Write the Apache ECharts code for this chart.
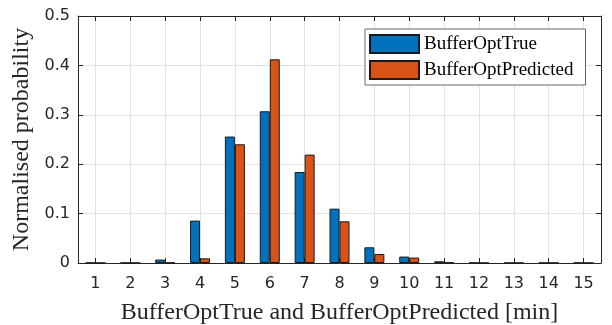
<!DOCTYPE html>
<html>
<head>
<meta charset="utf-8">
<script src="https://cdn.jsdelivr.net/npm/echarts@6/dist/echarts.min.js"></script>
<style>
  html, body { margin: 0; padding: 0; background: #fff; }
  #chart { width: 612px; height: 325px; }
</style>
</head>
<body>
<div id="chart"></div>
<script>
// Buffer duration bins (minutes)
const categories = ['1','2','3','4','5','6','7','8','9','10','11','12','13','14','15'];
// Normalised probability per bin
const trueValues = [0.0004, 0.0004, 0.0069, 0.0858, 0.2559, 0.3071, 0.1842, 0.1100, 0.0318, 0.0130, 0.0034, 0.0004, 0.0002, 0.0004, 0.0004];
const predictedValues = [0.0003, 0.0003, 0.0006, 0.0095, 0.2403, 0.4123, 0.2194, 0.0844, 0.0182, 0.0110, 0.0010, 0.0003, 0.0002, 0.0003, 0.0003];
const yTicks = [0, 0.1, 0.2, 0.3, 0.4, 0.5];

const axisColor = '#262626';
const gridColor = '#e3e3e3';
const sansFont = '"DejaVu Sans", "Liberation Sans", Arial, sans-serif';
const serifFont = '"Liberation Serif", "Times New Roman", serif';

const chart = echarts.init(document.getElementById('chart'), null, { renderer: 'canvas' });

chart.setOption({
  animation: false,
  backgroundColor: '#ffffff',
  grid: { left: 78, right: 11, top: 16, bottom: 62, containLabel: false, outerBoundsMode: 'none' },
  legend: {
    orient: 'vertical',
    left: 365,
    top: 29,
    padding: [5, 12, 5, 4],
    itemWidth: 49,
    itemHeight: 18,
    itemGap: 6,
    icon: 'rect',
    backgroundColor: '#ffffff',
    borderColor: '#666',
    borderWidth: 1,
    textStyle: { fontFamily: serifFont, fontSize: 19, color: '#000' },
    data: ['BufferOptTrue', 'BufferOptPredicted']
  },
  xAxis: [
    {
      type: 'category',
      data: categories,
      boundaryGap: true,
      name: 'BufferOptTrue and BufferOptPredicted [min]',
      nameLocation: 'middle',
      nameGap: 38,
      nameTextStyle: { fontFamily: serifFont, fontSize: 24, color: '#262626' },
      axisLine: { show: true, lineStyle: { color: axisColor, width: 1 } },
      axisTick: { show: true, inside: true, alignWithLabel: true, length: 5, lineStyle: { color: axisColor } },
      axisLabel: { fontFamily: sansFont, fontSize: 16, color: '#262626', margin: 13, interval: 0 },
      splitLine: { show: true, alignWithLabel: true, lineStyle: { color: gridColor, width: 1 } }
    },
    {
      type: 'category',
      data: categories,
      position: 'top',
      boundaryGap: true,
      axisLine: { show: true, onZero: false, lineStyle: { color: axisColor, width: 1 } },
      axisTick: { show: true, inside: true, alignWithLabel: true, length: 5, lineStyle: { color: axisColor } },
      axisLabel: { show: false },
      splitLine: { show: false }
    }
  ],
  yAxis: [
    {
      type: 'value',
      min: 0,
      max: 0.5,
      interval: 0.1,
      name: 'Normalised probability',
      nameLocation: 'middle',
      nameGap: 42,
      nameRotate: 90,
      nameTextStyle: { fontFamily: serifFont, fontSize: 24, color: '#262626' },
      axisLine: { show: true, lineStyle: { color: axisColor, width: 1 } },
      axisTick: { show: true, inside: true, length: 5, lineStyle: { color: axisColor } },
      axisLabel: {
        fontFamily: sansFont, fontSize: 16, color: '#262626', margin: 8,
        formatter: v => {
          const t = yTicks.find(k => Math.abs(k - v) < 1e-9);
          return t === undefined ? '' : (t === 0 ? '0' : t.toFixed(1));
        }
      },
      splitLine: { show: true, lineStyle: { color: gridColor, width: 1 } }
    },
    {
      type: 'value',
      min: 0,
      max: 0.5,
      interval: 0.1,
      position: 'right',
      axisLine: { show: true, onZero: false, lineStyle: { color: axisColor, width: 1 } },
      axisTick: { show: true, inside: true, length: 5, lineStyle: { color: axisColor } },
      axisLabel: { show: false },
      splitLine: { show: false }
    }
  ],
  series: [
    {
      name: 'BufferOptTrue',
      type: 'bar',
      xAxisIndex: 0,
      yAxisIndex: 0,
      data: trueValues,
      barWidth: 10,
      barGap: '0%',
      itemStyle: { color: '#0072BD', borderColor: '#1a1a1a', borderWidth: 1 }
    },
    {
      name: 'BufferOptPredicted',
      type: 'bar',
      xAxisIndex: 0,
      yAxisIndex: 0,
      data: predictedValues,
      barWidth: 10,
      barGap: '0%',
      itemStyle: { color: '#D95319', borderColor: '#1a1a1a', borderWidth: 1 }
    }
  ]
});
</script>
</body>
</html>
